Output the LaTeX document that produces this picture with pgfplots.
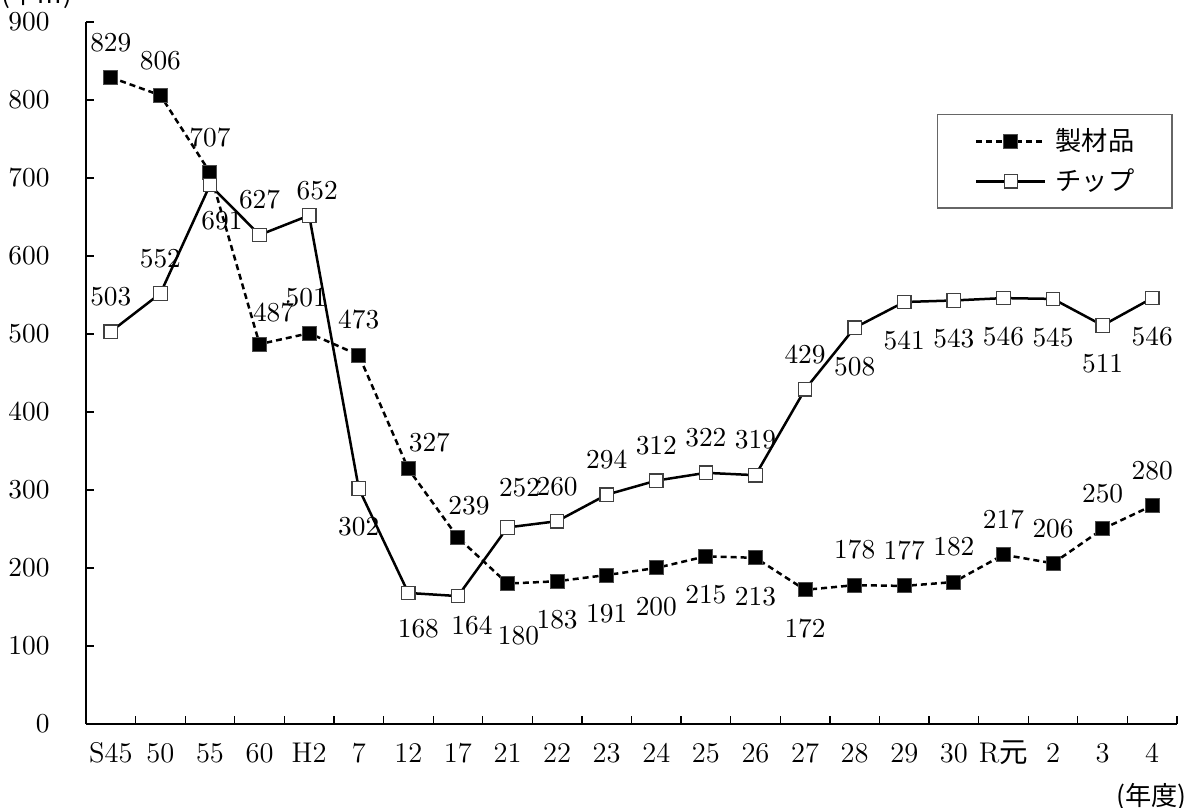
\documentclass[border=0pt]{standalone}
\usepackage{fontspec}
\newfontfamily\cjk{Noto Sans CJK JP}
\usepackage{pgfplots}
\pgfplotsset{compat=1.18}
\usepackage{pgfplotstable}

\pgfplotstableread{
x y
0 829
1 806
2 707
3 487
4 501
5 473
6 327
7 239
8 180
9 183
10 191
11 200
12 215
13 213
14 172
15 178
16 177
17 182
18 217
19 206
20 250
21 280
}\seizai

\pgfplotstableread{
x y
0 503
1 552
2 691
3 627
4 652
5 302
6 168
7 164
8 252
9 260
10 294
11 312
12 322
13 319
14 429
15 508
16 541
17 543
18 546
19 545
20 511
21 546
}\chip

% value labels: offset (px of the reference) then points
\newcommand\lab[3]{%
  \addplot[forget plot, draw=none, mark=none, nodes near coords,
    every node near coord/.append style={anchor=center, inner sep=0pt, black,
      xshift={#1*0.4pt}, yshift={#2*0.4pt}}] coordinates {#3};}

\begin{document}
\begin{tikzpicture}[font=\fontsize{11.4}{13}\selectfont]
\useasboundingbox (-34.4pt,-33.6pt) rectangle (441.2pt,289.6pt);
\begin{axis}[
    anchor=south west, at={(0,0)},
    scale only axis,
    width=436.4pt, height=280.8pt,
    xmin=-0.5, xmax=21.5,
    ymin=0, ymax=900,
    ytick={0,100,...,900},
    xtick={-0.5,0.5,1.5,2.5,3.5,4.5,5.5,6.5,7.5,8.5,9.5,10.5,11.5,12.5,13.5,14.5,15.5,16.5,17.5,18.5,19.5,20.5,21.5},
    xticklabels={},
    extra x ticks={0,...,21},
    extra x tick labels={S45,50,55,60,H2,7,12,17,21,22,23,24,25,26,27,28,29,30,R{\cjk 元},2,3,4},
    extra x tick style={major tick length=0pt},
    xticklabel style={anchor=base, yshift=-15.6pt, inner sep=0pt},
    yticklabel style={inner sep=0pt, xshift=-14.4pt},
    tick align=inside,
    major tick length=3pt,
    tick style={black, line width=0.5pt},
    axis x line*=bottom, axis y line*=left,
    axis line style={-, line width=0.7pt},
    clip=false,
    legend style={at={(rel axis cs:0.78,0.869)}, anchor=north west,
        draw=black!60, line width=0.6pt,
        font=\fontsize{10.5}{12}\selectfont,
        nodes={inner sep=0pt},
        column sep=3.6pt, row sep=5.6pt,
        inner xsep=15pt, inner ysep=5.6pt},
    legend cell align=left,
    legend image code/.code={
        \draw[mark repeat=2, mark phase=2, #1] plot coordinates {(0pt,0pt) (13.8pt,0pt) (27.6pt,0pt)};},
]
\addplot[black, line width=1pt, dash pattern=on 2.4pt off 1.6pt,
    mark=square*, mark size=2.8pt,
    mark options={solid, fill=black, draw=black!70, line width=0.4pt}]
    table[x=x, y=y] {\seizai};
\addlegendentry{{\cjk 製材品}}
\addplot[black, line width=1pt,
    mark=square*, mark size=2.7pt,
    mark options={solid, fill=white, draw=black!75, line width=0.5pt}]
    table[x=x, y=y] {\chip};
\addlegendentry{{\cjk チップ}}
% labels above the point
\lab{0}{35}{(0,829) (1,806) (2,707) (5,473) (15,178) (16,177) (17,182) (18,217) (19,206) (20,250) (21,280)
  (0,503) (1,552) (3,627) (9,260) (10,294) (11,312) (12,322) (13,319) (14,429)}
% labels below the point
\lab{0}{-38.5}{(9,183) (10,191) (11,200) (12,215) (13,213) (14,172)
  (5,302) (15,508) (16,541) (17,543) (18,546) (19,545) (20,511) (21,546)}
% labels set off to one side
\lab{14}{31}{(3,487)}
\lab{-3}{36}{(4,501)}
\lab{21}{26}{(6,327)}
\lab{11}{32}{(7,239)}
\lab{11}{-52}{(8,180)}
\lab{12}{-36}{(2,691)}
\lab{8}{25}{(4,652)}
\lab{10}{-36}{(6,168)}
\lab{14}{-30}{(7,164)}
\lab{12}{40}{(8,252)}
\end{axis}
\node[font=\cjk\fontsize{10.5}{12}\selectfont] at (-19.6pt,291.6pt) {(千㎥)};
\node[font=\cjk\fontsize{10.5}{12}\selectfont, anchor=east, inner sep=0pt] at (440.4pt,-29.2pt) {(年度)};
\end{tikzpicture}
\end{document}
